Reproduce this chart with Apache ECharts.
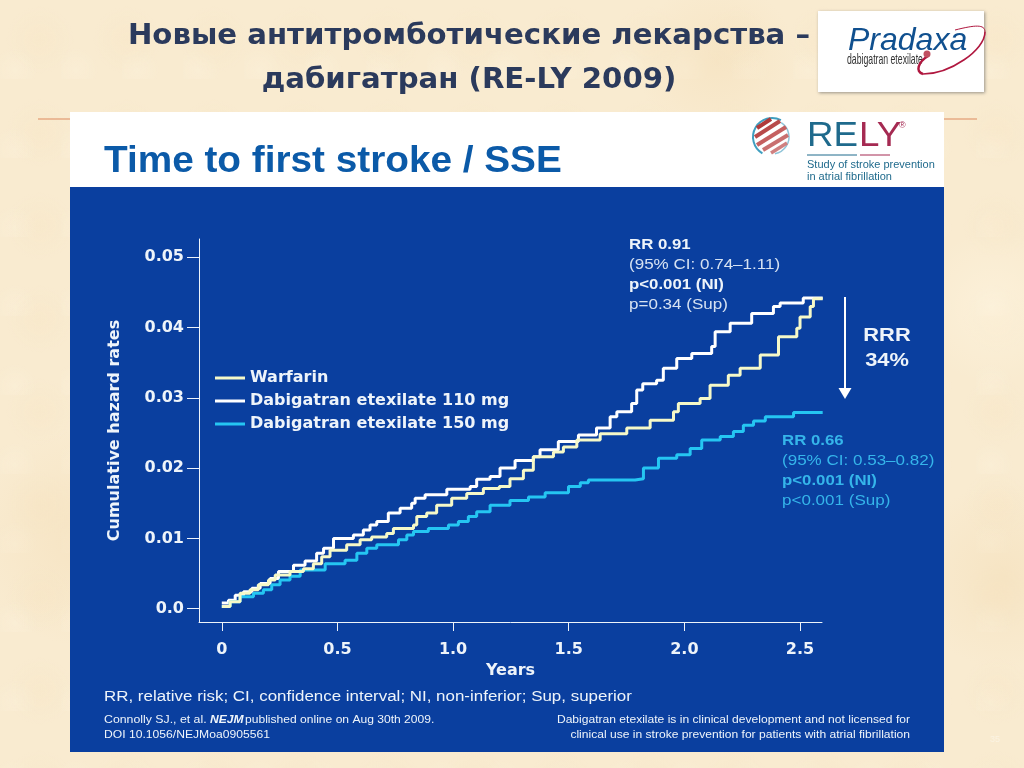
<!DOCTYPE html>
<html><head><meta charset="utf-8">
<script src="https://cdn.jsdelivr.net/npm/echarts@6/dist/echarts.min.js"></script>
<style>
html,body{margin:0;padding:0;width:1024px;height:768px;overflow:hidden;background-color:#f9ebd0;
background-image:
radial-gradient(circle at 20% 30%,rgba(255,246,226,.5) 0,rgba(255,246,226,0) 9%),
radial-gradient(circle at 70% 8%,rgba(243,220,180,.4) 0,rgba(243,220,180,0) 8%),
radial-gradient(circle at 8% 70%,rgba(243,220,180,.45) 0,rgba(243,220,180,0) 10%),
radial-gradient(circle at 97% 40%,rgba(255,246,226,.5) 0,rgba(255,246,226,0) 7%),
radial-gradient(circle at 98% 75%,rgba(243,220,180,.45) 0,rgba(243,220,180,0) 8%),
radial-gradient(circle at 40px 40px,rgba(243,220,180,.16) 0,rgba(243,220,180,0) 34px),
radial-gradient(circle at 15px 70px,rgba(255,248,232,.2) 0,rgba(255,248,232,0) 22px);
background-size:auto,auto,auto,auto,auto,87px 93px,61px 79px;}
#c{width:1024px;height:768px}
</style></head><body><div id="c"></div>
<script>
const xTicks=[0,0.5,1.0,1.5,2.0,2.5];
const yTicks=[0,0.01,0.02,0.03,0.04,0.05];
const seriesNames=['Warfarin','Dabigatran etexilate 110 mg','Dabigatran etexilate 150 mg'];
const warfarin=[[0,.0003],[.036,.001],[.079,.0022],[.122,.0027],[.158,.0034],[.202,.0041],[.231,.0048],[.295,.0053],[.353,.0057],[.396,.0064],[.432,.0074],[.468,.0083],[.54,.0091],[.598,.0098],[.648,.0102],[.713,.0107],[.742,.0114],[.829,.0119],[.843,.0131],[.886,.0136],[.929,.0147],[.994,.0157],[1.059,.0164],[1.131,.0171],[1.2,.0174],[1.246,.0185],[1.304,.0197],[1.347,.0216],[1.434,.0223],[1.477,.023],[1.535,.024],[1.636,.0249],[1.751,.0257],[1.852,.0268],[1.953,.028],[1.974,.0292],[2.068,.0299],[2.111,.0318],[2.19,.0332],[2.241,.0342],[2.328,.0361],[2.407,.0387],[2.486,.0399],[2.5,.0415],[2.544,.043],[2.558,.0441],[2.598,.0441]];
const dabi110=[[0,.0008],[.029,.0012],[.058,.0019],[.094,.0024],[.13,.0029],[.166,.0036],[.209,.0043],[.245,.0053],[.31,.0062],[.36,.0068],[.41,.0079],[.44,.0086],[.483,.01],[.569,.0105],[.612,.0112],[.641,.0119],[.67,.0124],[.72,.0136],[.771,.0143],[.821,.015],[.836,.0157],[.879,.0162],[.973,.017],[1.074,.0174],[1.102,.0184],[1.16,.0188],[1.203,.02],[1.268,.0211],[1.347,.0216],[1.376,.0226],[1.455,.0238],[1.542,.0247],[1.62,.0257],[1.679,.0273],[1.708,.028],[1.772,.0292],[1.794,.0311],[1.82,.032],[1.88,.0325],[1.909,.0342],[1.967,.0356],[2.032,.0363],[2.118,.0373],[2.133,.0394],[2.198,.0406],[2.291,.042],[2.385,.043],[2.414,.0435],[2.514,.0442],[2.598,.0442]];
const dabi150=[[0,.0003],[.036,.001],[.079,.0017],[.137,.0022],[.18,.0027],[.216,.0034],[.252,.0041],[.295,.0046],[.339,.0055],[.447,.0064],[.533,.0069],[.584,.0079],[.627,.0086],[.67,.0091],[.764,.0098],[.8,.0105],[.829,.011],[.893,.0114],[.98,.0119],[1.023,.0124],[1.066,.0131],[1.102,.0138],[1.16,.0147],[1.246,.0154],[1.326,.0159],[1.398,.0165],[1.499,.0174],[1.55,.0179],[1.585,.0183],[1.787,.0185],[1.823,.02],[1.888,.0214],[1.967,.0219],[2.025,.0228],[2.075,.024],[2.155,.0245],[2.212,.0252],[2.255,.0261],[2.299,.0267],[2.35,.0273],[2.472,.0279],[2.598,.0279]];
const SANS='"Liberation Sans",Arial,sans-serif', WIDE='"DejaVu Sans",sans-serif';
const WHITE='#eef4fa', GREY='#d6e2f2', CY='#35b5ea', BLUE='#0a3f9f';
function t(x,y,text,size,fill,f,sx,align){return {type:'text',x,y,z:20,scaleX:sx||1,style:{text,font:(f||'')+' '+size+'px '+SANS,fill,textVerticalAlign:'middle',textAlign:align||'left'}}}
const chart=echarts.init(document.getElementById('c'),null,{renderer:'canvas'});
chart.setOption({
 backgroundColor:'transparent',animation:false,
 title:{text:'Новые антитромботические лекарства –\nдабигатран (RE-LY 2009)',left:464,top:9,textAlign:'center',
  textStyle:{fontFamily:WIDE,fontSize:29.2,fontWeight:'bold',color:'#2b3a5c',lineHeight:44}},
 legend:{orient:'vertical',left:210,top:365,itemWidth:30,itemHeight:3,itemGap:7,
  data:seriesNames.map(name=>({name,icon:'rect'})),
  textStyle:{color:WHITE,fontFamily:WIDE,fontWeight:'bold',fontSize:16}},
 grid:{left:199,top:239,width:623,height:383},
 xAxis:{type:'value',min:-0.0985,max:2.595,name:'Years',nameLocation:'middle',nameGap:41,
  nameTextStyle:{color:WHITE,fontFamily:WIDE,fontWeight:'bold',fontSize:16},
  axisLine:{show:true,onZero:false,lineStyle:{color:WHITE,width:1}},
  axisTick:{show:true,length:9,customValues:xTicks,lineStyle:{color:WHITE,width:1}},
  axisLabel:{customValues:xTicks,margin:20,color:WHITE,fontFamily:WIDE,fontWeight:'bold',fontSize:16,formatter:v=>v===0?'0':v.toFixed(1)},
  splitLine:{show:false}},
 yAxis:{type:'value',min:-0.00189,max:0.05259,name:'Cumulative hazard rates',nameLocation:'middle',nameGap:76,
  nameTextStyle:{color:WHITE,fontFamily:WIDE,fontWeight:'bold',fontSize:16},
  axisLine:{show:true,onZero:false,lineStyle:{color:WHITE,width:1}},
  axisTick:{show:true,length:12,customValues:yTicks,lineStyle:{color:WHITE,width:1}},
  axisLabel:{customValues:yTicks,margin:15,color:WHITE,fontFamily:WIDE,fontWeight:'bold',fontSize:16,padding:[0,0,4,0],formatter:v=>v===0?'0.0':String(v)},
  splitLine:{show:false}},
 series:[
  {name:seriesNames[0],type:'line',step:'end',symbol:'none',data:warfarin,z:4,lineStyle:{color:'#f6f9c8',width:3},itemStyle:{color:'#f6f9c8'}},
  {name:seriesNames[1],type:'line',step:'end',symbol:'none',data:dabi110,z:3,lineStyle:{color:'#ffffff',width:3},itemStyle:{color:'#ffffff'}},
  {name:seriesNames[2],type:'line',step:'end',symbol:'none',data:dabi150,z:3,lineStyle:{color:'#25c6f2',width:3},itemStyle:{color:'#25c6f2'}}
 ],
 graphic:{elements:[
  {type:'line',z:-2,shape:{x1:38,y1:119,x2:977,y2:119},style:{stroke:'#dd8a5e',lineWidth:1}},
  {type:'rect',z:-1,shape:{x:70,y:112,width:874,height:75},style:{fill:'#ffffff'}},
  {type:'rect',z:-1,shape:{x:70,y:187,width:874,height:565},style:{fill:BLUE}},
  t(104,162,'Time to first stroke / SSE',36,'#0b5aa8','bold',1.076),
  // Pradaxa logo
  {type:'rect',z:5,shape:{x:818,y:11,width:166,height:81},style:{fill:'#fff',shadowBlur:3,shadowColor:'rgba(90,90,90,.6)',shadowOffsetX:1,shadowOffsetY:1}},
  {type:'text',z:20,x:848,y:41,style:{text:'Pradaxa',font:'italic 32px '+SANS,fill:'#10508f',textVerticalAlign:'middle'}},
  {type:'text',z:20,x:847,y:60,scaleX:.58,style:{text:'dabigatran etexilate',font:'15px '+SANS,fill:'#333',textVerticalAlign:'middle'}},
  {type:'bezierCurve',z:20,shape:{x1:923,y1:74,cpx1:950,cpy1:74,cpx2:985,cpy2:50,x2:985,y2:32},style:{stroke:'#b0173f',lineWidth:1.6,fill:'none'}},
  {type:'bezierCurve',z:20,shape:{x1:985,y1:32,cpx1:985,cpy1:24,cpx2:975,cpy2:25,x2:955,y2:30},style:{stroke:'#b0173f',lineWidth:1,fill:'none'}},
  {type:'bezierCurve',z:20,shape:{x1:923,y1:74,cpx1:915,cpy1:72,cpx2:918,cpy2:62,x2:928,y2:56},style:{stroke:'#b0173f',lineWidth:2.5,fill:'none'}},
  {type:'circle',z:21,shape:{cx:927,cy:54,r:3.5},style:{fill:'#c05060'}},
  // RELY logo
  {type:'arc',z:5,shape:{cx:772,cy:137,r:19,startAngle:2.1,endAngle:5.2},style:{stroke:'#3f9fc0',lineWidth:2,fill:'none'}},
  {type:'arc',z:5,shape:{cx:772,cy:137,r:17,startAngle:-1,endAngle:1.4},style:{stroke:'#8fc4d8',lineWidth:1.5,fill:'none'}},
  {type:'line',z:5,shape:{x1:757,y1:128,x2:771,y2:119},style:{stroke:'#b03a3a',lineWidth:4}},
  {type:'line',z:5,shape:{x1:755,y1:137,x2:780,y2:121},style:{stroke:'#b84a4a',lineWidth:4}},
  {type:'line',z:5,shape:{x1:757,y1:145,x2:786,y2:127},style:{stroke:'#c56060',lineWidth:4}},
  {type:'line',z:5,shape:{x1:763,y1:150,x2:788,y2:135},style:{stroke:'#c97070',lineWidth:4}},
  {type:'line',z:5,shape:{x1:771,y1:153,x2:787,y2:143},style:{stroke:'#d08080',lineWidth:3.5}},
  t(807,136,'RE',35,'#1f6a8c','',1.05),
  t(859,136,'LY',35,'#a52a52','',1.05),
  t(899,126,'®',9,'#a52a52'),
  {type:'line',z:5,shape:{x1:807,y1:155,x2:857,y2:155},style:{stroke:'#1f6a8c',lineWidth:1}},
  {type:'line',z:5,shape:{x1:860,y1:155,x2:890,y2:155},style:{stroke:'#a52a52',lineWidth:1}},
  t(807,165,'Study of stroke prevention',11,'#1f6a8c'),
  t(807,177,'in atrial fibrillation',11,'#1f6a8c'),
  // annotations
  t(629,245,'RR 0.91',15,WHITE,'bold',1.12),
  t(629,265,'(95% CI: 0.74–1.11)',15,GREY,'',1.135),
  t(629,285,'p<0.001 (NI)',15,WHITE,'bold',1.12),
  t(629,305,'p=0.34 (Sup)',15,GREY,'',1.135),
  t(782,441,'RR 0.66',15,CY,'bold',1.12),
  t(782,461,'(95% CI: 0.53–0.82)',15,CY,'',1.135),
  t(782,481,'p<0.001 (NI)',15,CY,'bold',1.12),
  t(782,501,'p<0.001 (Sup)',15,CY,'',1.135),
  {type:'line',z:20,shape:{x1:845,y1:297,x2:845,y2:392},style:{stroke:'#fff',lineWidth:2}},
  {type:'polygon',z:20,shape:{points:[[838.5,388],[851.5,388],[845,399]]},style:{fill:'#fff'}},
  t(887,336,'RRR',19,WHITE,'bold',1.15,'center'),
  t(887,361,'34%',19,WHITE,'bold',1.15,'center'),
  t(104,697,'RR, relative risk; CI, confidence interval; NI, non-inferior; Sup, superior',15.4,WHITE,'',1.10),
  t(104,720,'Connolly SJ., et al.',11.5,WHITE,'',1.07),
  t(210,720,'NEJM',11.5,WHITE,'italic bold',1.05),
  t(245,720,'published online on Aug 30th 2009.',11.5,WHITE,'',1.05),
  t(104,735,'DOI 10.1056/NEJMoa0905561',11.5,WHITE,'',1.055),
  t(910,720,'Dabigatran etexilate is in clinical development and not licensed for',11.5,WHITE,'',1.05,'right'),
  t(910,735,'clinical use in stroke prevention for patients with atrial fibrillation',11.5,WHITE,'',1.05,'right'),
  t(990,740,'35',9,'#fbf3e2')
 ]}
});
</script></body></html>
